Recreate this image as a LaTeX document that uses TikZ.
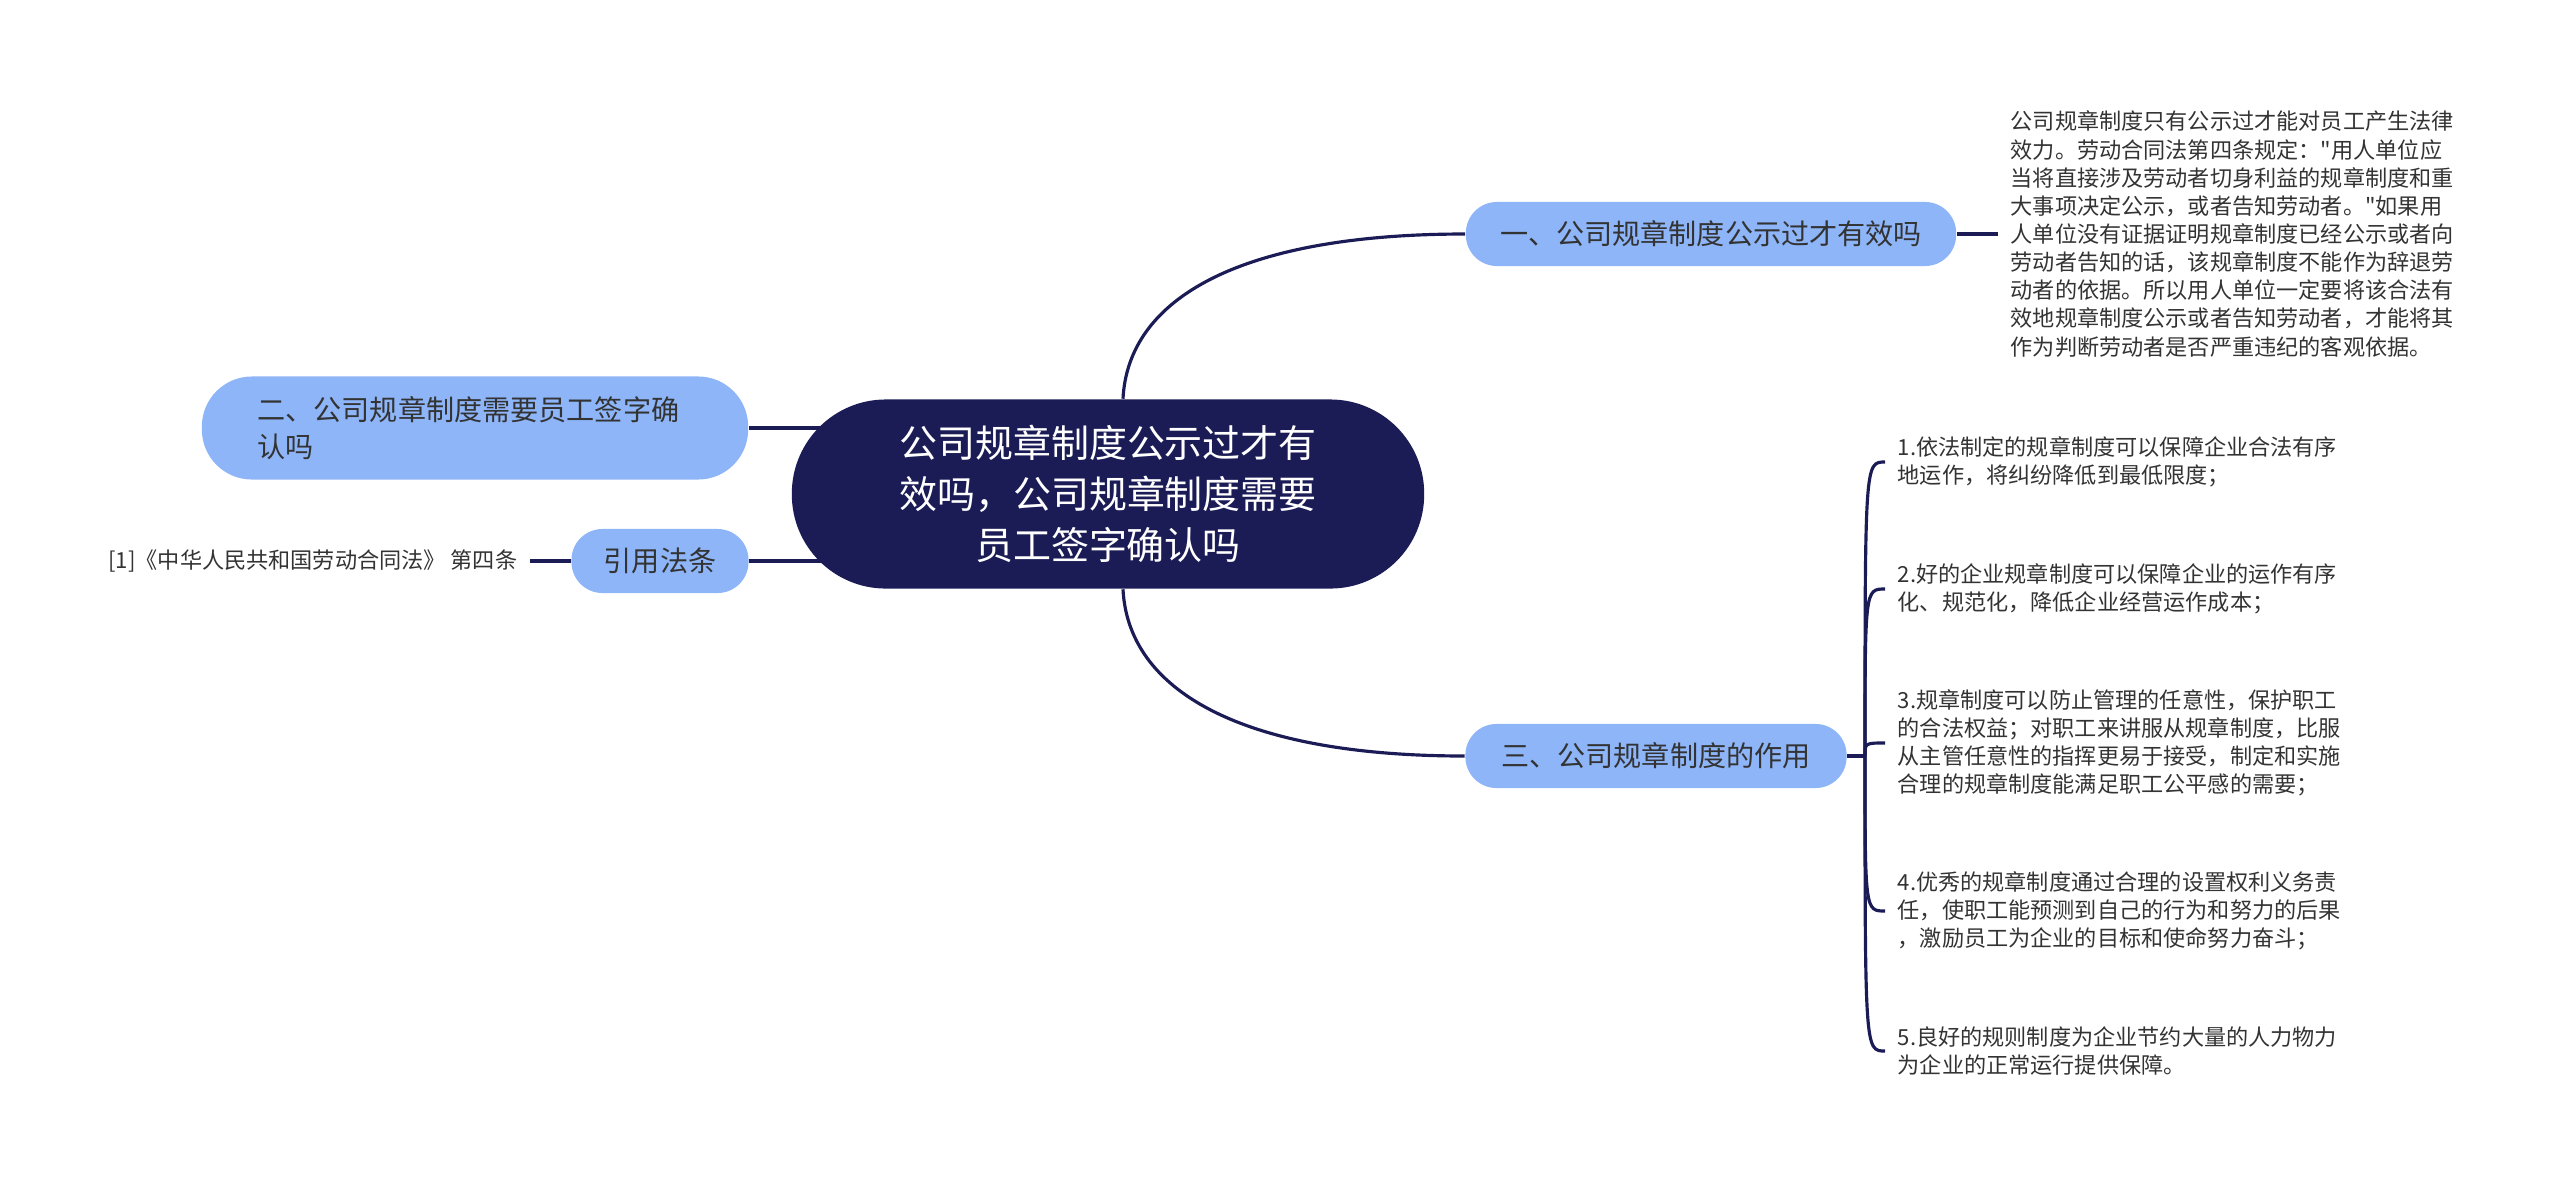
\documentclass[tikz,border=0pt]{standalone}
\usepackage{fontspec}
\newfontfamily\cjkfont{Noto Sans CJK SC}
\usepackage{xcolor}
\usepackage{tikz}
\usetikzlibrary{positioning, calc, backgrounds}

\definecolor{navy}{HTML}{1B1C56}
\definecolor{lightblue}{HTML}{8DB5F8}
\definecolor{textgray}{HTML}{333333}

\begin{document}
\begin{tikzpicture}[x=0.01cm, y=-0.01cm,
          root/.style={rectangle, fill=navy, text=white, rounded corners=0.94cm,
            minimum width=6.32cm, minimum height=1.89cm, align=center,
            font=\cjkfont\fontsize{10.8pt}{14.4pt}\selectfont},
          branch/.style={rectangle, fill=lightblue, text=textgray, minimum height=0.64cm,
            rounded corners=0.31cm, font=\cjkfont\fontsize{8pt}{10.7pt}\selectfont},
          leaf/.style={inner xsep=0.12cm, inner ysep=0pt, align=left, text=textgray,
            font=\cjkfont\fontsize{6.3pt}{8pt}\selectfont},
          link/.style={draw=navy, line width=0.9pt}]
          \useasboundingbox (0,0) rectangle (2560,1187);

          \node[root] (root) at (1108,494) {公司规章制度公示过才有\\效吗，公司规章制度需要\\员工签字确认吗};
          \node[branch, minimum width=4.9cm] (one) at (1711,234) {一、公司规章制度公示过才有效吗};
          \node[branch, minimum width=3.81cm] (three) at (1656,756) {三、公司规章制度的作用};
          \node[branch, minimum width=5.46cm, minimum height=1.03cm, rounded corners=0.5cm,
            text width=4.35cm, align=left] (two) at (475,428) {二、公司规章制度需要员工签字确\\认吗};
          \node[branch, minimum width=1.77cm] (law) at (660,561) {引用法条};

          \node[leaf, anchor=west] (onetext) at (1998,234) {公司规章制度只有公示过才能对员工产生法律\\效力。劳动合同法第四条规定："用人单位应\\当将直接涉及劳动者切身利益的规章制度和重\\大事项决定公示，或者告知劳动者。"如果用\\人单位没有证据证明规章制度已经公示或者向\\劳动者告知的话，该规章制度不能作为辞退劳\\动者的依据。所以用人单位一定要将该合法有\\效地规章制度公示或者告知劳动者，才能将其\\作为判断劳动者是否严重违纪的客观依据。};
          \node[leaf, anchor=east] (lawtext) at (530,561) {[1]《中华人民共和国劳动合同法》 第四条};

          \coordinate (hub) at (1865,756);
          \node[leaf, anchor=west] (r1) at (1885,462) {1.依法制定的规章制度可以保障企业合法有序\\地运作，将纠纷降低到最低限度；};
          \node[leaf, anchor=west] (r2) at (1885,589) {2.好的企业规章制度可以保障企业的运作有序\\化、规范化，降低企业经营运作成本；};
          \node[leaf, anchor=west] (r3) at (1885,743) {3.规章制度可以防止管理的任意性，保护职工\\的合法权益；对职工来讲服从规章制度，比服\\从主管任意性的指挥更易于接受，制定和实施\\合理的规章制度能满足职工公平感的需要；};
          \node[leaf, anchor=west] (r4) at (1885,911) {4.优秀的规章制度通过合理的设置权利义务责\\任，使职工能预测到自己的行为和努力的后果\\，激励员工为企业的目标和使命努力奋斗；};
          \node[leaf, anchor=west] (r5) at (1885,1051) {5.良好的规则制度为企业节约大量的人力物力\\为企业的正常运行提供保障。};

          \begin{scope}[on background layer]
          \draw[link] (two.east) -- (two.east -| root.center);
          \draw[link] (law.east) -- (law.east -| root.center);
          \draw[link] ($(root.north)+(15,0)$) .. controls +(5,-100) and +(-226,0) .. (one.west);
          \draw[link] ($(root.south)+(15,0)$) .. controls +(5,100) and +(-226,0) .. (three.west);
          \draw[link] (one.east) -- (onetext.west);
          \draw[link] (lawtext.east) -- (law.west);
          \draw[link] (three.east) -- (hub);
          \foreach \n in {r1,r2,r3,r4,r5}
            \draw[link] (hub) .. controls (hub |- \n.west) .. (\n.west);
          \end{scope}
        \end{tikzpicture}
\end{document}
